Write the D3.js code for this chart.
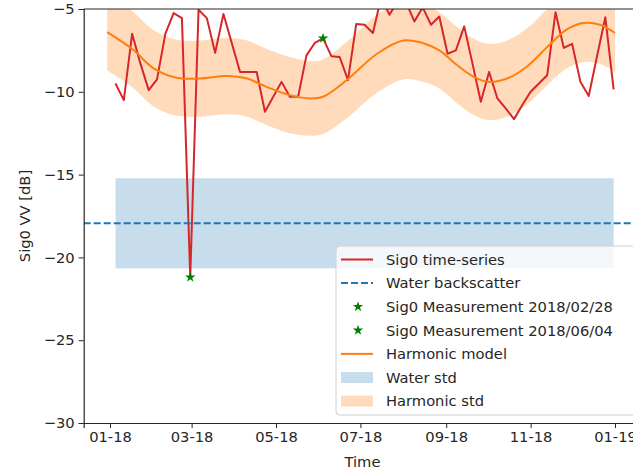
<!DOCTYPE html>
<html>
<head>
<meta charset="utf-8">
<script src="https://cdn.jsdelivr.net/npm/d3@7"></script>
<style>
body { margin: 0; background: #fff; }
svg { display: block; font-family: "DejaVu Sans", sans-serif; }
</style>
</head>
<body>
<svg width="633" height="471"></svg>
<script>
// Sig0 acquisitions (6-day revisit)
var sigDates = ["2018-01-05","2018-01-11","2018-01-17","2018-01-23","2018-01-29","2018-02-04","2018-02-10","2018-02-16","2018-02-22","2018-02-28",
  "2018-03-06","2018-03-12","2018-03-18","2018-03-24","2018-03-30","2018-04-05","2018-04-11","2018-04-17","2018-04-23","2018-04-29",
  "2018-05-05","2018-05-11","2018-05-17","2018-05-23","2018-05-29","2018-06-04","2018-06-10","2018-06-16","2018-06-22","2018-06-28",
  "2018-07-04","2018-07-10","2018-07-16","2018-07-22","2018-07-28","2018-08-03","2018-08-09","2018-08-15","2018-08-21","2018-08-27",
  "2018-09-02","2018-09-08","2018-09-14","2018-09-20","2018-09-26","2018-10-02","2018-10-08","2018-10-14","2018-10-20","2018-10-26",
  "2018-11-01","2018-11-07","2018-11-13","2018-11-19","2018-11-25","2018-12-01","2018-12-07","2018-12-13","2018-12-19","2018-12-25",
  "2018-12-31"];
var sigValues = [-9.5,-10.5,-6.5,-8.3,-9.9,-9.25,-6.5,-5.25,-5.55,-21.2,
  -5.05,-5.55,-7.65,-5.3,-7.05,-8.8,-8.8,-8.8,-11.2,-10.3,
  -9.4,-10.3,-10.3,-7.8,-7.05,-6.77,-7.85,-7.9,-9.3,-5.9,
  -5.95,-6.45,-4.3,-5.35,-4.5,-4.6,-5.75,-4.9,-5.95,-5.45,
  -7.7,-7.5,-6.05,-8.3,-10.6,-8.8,-10.4,-11.0,-11.65,-10.8,
  -10.0,-9.5,-9.0,-5.2,-7.35,-7.1,-9.4,-10.25,-7.85,-5.5,
  -9.85];

// harmonic model and its std
var harmDates = ["2017-12-30","2018-01-18","2018-02-01","2018-02-18","2018-03-07","2018-03-26","2018-04-10","2018-04-24","2018-05-11",
  "2018-05-26","2018-06-04","2018-06-21","2018-07-13","2018-08-01","2018-08-15","2018-08-27","2018-09-09","2018-09-21","2018-10-01",
  "2018-10-15","2018-10-29","2018-11-13","2018-11-27","2018-12-09","2018-12-21","2019-01-01"];
var harmValues = [-6.4,-7.48,-8.55,-9.15,-9.2,-9.05,-9.2,-9.7,-10.2,
  -10.4,-10.3,-9.3,-7.7,-6.9,-7.05,-7.5,-8.4,-9.1,-9.4,
  -9.2,-8.5,-7.3,-6.25,-5.85,-5.95,-6.45];
var harmStd = [2.3,2.3,2.3,2.3,2.3,2.3,2.3,2.3,2.3,
  2.25,2.25,2.3,2.35,2.35,2.35,2.3,2.3,2.3,2.3,
  2.3,2.3,2.3,2.35,2.35,2.35,2.35];

var waterMean = -17.94;
var waterStd = 2.72;

var starDates = ["2018-02-28", "2018-06-04"];
var starValues = [-21.2, -6.77];

var legendLabels = ["Sig0 time-series", "Water backscatter", "Sig0 Measurement 2018/02/28",
  "Sig0 Measurement 2018/06/04", "Harmonic model", "Water std", "Harmonic std"];

var yTicks = [-30, -25, -20, -15, -10, -5];

var parse = d3.timeParse("%Y-%m-%d");
var svg = d3.select("svg");
var FONT = 14.7;
var L = 83.7, R = 641.3, T = 9, B = 423;

var x = d3.scaleTime().domain([parse("2017-12-13"), parse("2019-01-20")]).range([L, R]);
var y = d3.scaleLinear().domain([-30, -5]).range([B, T]);

var sig = sigDates.map((d, i) => ({date: parse(d), v: sigValues[i]}));
var harm = harmDates.map((d, i) => ({date: parse(d), v: harmValues[i], s: harmStd[i]}));
var stars = starDates.map((d, i) => ({date: parse(d), v: starValues[i]}));

svg.append("defs").append("clipPath").attr("id", "clip")
  .append("rect").attr("x", L).attr("y", T).attr("width", R - L).attr("height", B - T);

var plot = svg.append("g").attr("clip-path", "url(#clip)");

// water std band
plot.append("rect")
  .attr("x", x(sig[0].date))
  .attr("width", x(sig[sig.length - 1].date) - x(sig[0].date))
  .attr("y", y(waterMean + waterStd))
  .attr("height", y(waterMean - waterStd) - y(waterMean + waterStd))
  .attr("fill", "#1f77b4").attr("fill-opacity", 0.25);

// harmonic std band
plot.append("path")
  .datum(harm)
  .attr("fill", "#ff7f0e").attr("fill-opacity", 0.28)
  .attr("d", d3.area().curve(d3.curveCatmullRom)
    .x(d => x(d.date)).y0(d => y(d.v - d.s)).y1(d => y(d.v + d.s)));

plot.append("path")
  .datum(sig)
  .attr("fill", "none").attr("stroke", "#d62728").attr("stroke-width", 2)
  .attr("stroke-linejoin", "round")
  .attr("d", d3.line().x(d => x(d.date)).y(d => y(d.v)));

plot.append("line")
  .attr("x1", L).attr("x2", R).attr("y1", y(waterMean)).attr("y2", y(waterMean))
  .attr("stroke", "#1f77b4").attr("stroke-width", 2).attr("stroke-dasharray", "7,3");

plot.append("path")
  .datum(harm)
  .attr("fill", "none").attr("stroke", "#ff7f0e").attr("stroke-width", 2)
  .attr("d", d3.line().curve(d3.curveCatmullRom).x(d => x(d.date)).y(d => y(d.v)));

var star = d3.symbol().type(d3.symbolStar).size(34);
plot.selectAll(".star").data(stars).enter().append("path")
  .attr("class", "star")
  .attr("transform", d => "translate(" + x(d.date) + "," + y(d.v) + ")")
  .attr("d", star).attr("fill", "green");

// axes
var xAxis = svg.append("g")
  .attr("transform", "translate(0," + B + ")")
  .call(d3.axisBottom(x).ticks(d3.timeMonth.every(2)).tickFormat(d3.timeFormat("%m-%y")).tickSizeOuter(0).tickSize(5).tickPadding(4));
var yAxis = svg.append("g")
  .attr("transform", "translate(" + L + ",0)")
  .call(d3.axisLeft(y).tickValues(yTicks).tickFormat(d => String(d).replace("-", "\u2212")).tickSizeOuter(0).tickSize(5).tickPadding(4));
[xAxis, yAxis].forEach(a => {
  a.selectAll("text").attr("font-size", FONT).attr("font-family", "DejaVu Sans").attr("fill", "#262626");
  a.selectAll("line").attr("stroke", "#262626").attr("stroke-width", 1);
  a.select(".domain").attr("stroke", "#262626").attr("stroke-width", 1.2);
});
svg.append("line").attr("x1", L).attr("x2", R).attr("y1", T).attr("y2", T)
  .attr("stroke", "#262626").attr("stroke-width", 1.2);

svg.append("text")
  .attr("x", (L + R) / 2).attr("y", 467)
  .attr("text-anchor", "middle").attr("font-size", FONT).attr("fill", "#262626")
  .text("Time");
svg.append("text")
  .attr("transform", "translate(30," + (T + B) / 2 + ") rotate(-90)")
  .attr("text-anchor", "middle").attr("font-size", FONT).attr("fill", "#262626")
  .text("Sig0 VV [dB]");

// legend
var lg = svg.append("g").attr("transform", "translate(336,246)");
lg.append("rect").attr("width", 310).attr("height", 169).attr("rx", 4)
  .attr("fill", "#fff").attr("fill-opacity", 0.8).attr("stroke", "#d0d0d0");
var rowY = d => 13.5 + d * 23.6;
legendLabels.forEach((lab, i) => {
  var cy = rowY(i);
  if (i === 0 || i === 1 || i === 4) {
    lg.append("line").attr("x1", 5).attr("x2", 37).attr("y1", cy).attr("y2", cy)
      .attr("stroke", i === 0 ? "#d62728" : i === 1 ? "#1f77b4" : "#ff7f0e")
      .attr("stroke-width", 2).attr("stroke-dasharray", i === 1 ? "7,3" : null);
  } else if (i === 2 || i === 3) {
    lg.append("path").attr("transform", "translate(22," + cy + ")").attr("d", star).attr("fill", "green");
  } else {
    lg.append("rect").attr("x", 5).attr("width", 32).attr("y", cy - 5.5).attr("height", 11)
      .attr("fill", i === 5 ? "#1f77b4" : "#ff7f0e").attr("fill-opacity", i === 5 ? 0.25 : 0.28);
  }
  lg.append("text").attr("x", 50).attr("y", cy).attr("dy", "0.36em")
    .attr("font-size", FONT).attr("fill", "#262626").text(lab);
});
</script>
</body>
</html>
